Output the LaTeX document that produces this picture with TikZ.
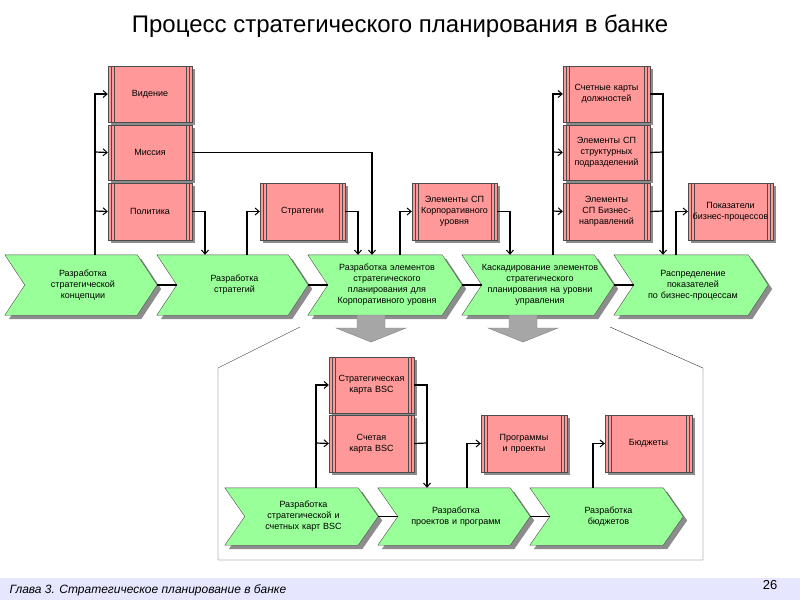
\documentclass[tikz,border=0pt]{standalone}
\usepackage{fontspec}
\setmainfont{Liberation Sans}
\usetikzlibrary{arrows.meta,shadows,calc}
\definecolor{rb}{RGB}{255,153,153}
\definecolor{gc}{RGB}{153,255,153}
\definecolor{foot}{RGB}{230,230,255}
\tikzset{
 arr/.style={draw=black,line width=1.2pt,-{Straight Barb[length=4pt,width=7pt,line width=1pt]}},
 ln/.style={draw=black,line width=1.2pt},
 rbox/.style={draw=black!70,fill=rb,inner sep=1pt,align=center,font=\fontsize{9}{11}\selectfont,
   drop shadow={shadow xshift=3pt,shadow yshift=-3pt,fill=black!45,opacity=1},
   path picture={
    \foreach \d in {3,6}{
     \draw[black!70] ([xshift=\d pt]path picture bounding box.north west) -- ([xshift=\d pt]path picture bounding box.south west);
     \draw[black!70] ([xshift=-\d pt]path picture bounding box.north east) -- ([xshift=-\d pt]path picture bounding box.south east);}}},
 chtext/.style={inner sep=0pt,align=center,font=\fontsize{9}{11}\selectfont,text width=140pt},
}
\newcommand\rbx[6]{\node[rbox,minimum width={(#4-#2)*1pt},minimum height={(#5-#3)*1pt},text width={(#4-#2-4)*1pt}] (#1) at ({(#2+#4)/2},{(#3+#5)/2}) {#6};}
\newcommand\chev[6]{%
 \node[inner sep=0pt,minimum width={(#3-#2)*1pt},minimum height={(#5-#4)*1pt}] (#1) at ({(#2+#3)/2},{(#4+#5)/2}) {};
 \fill[black!45] ($( #1.north west)+(4,4)$) -- ($(#1.north east)+(-16,4)$) -- ($(#1.east)+(4,4)$) -- ($(#1.south east)+(-16,4)$) -- ($(#1.south west)+(4,4)$) -- ($(#1.west)+(24,4)$) -- cycle;
 \filldraw[fill=gc,draw=black!70] (#1.north west) -- ($(#1.north east)+(-20,0)$) -- (#1.east) -- ($(#1.south east)+(-20,0)$) -- (#1.south west) -- ($(#1.west)+(20,0)$) -- cycle;
 \node[chtext] at ($(#1.center)+(2,0)$) {#6};}
\begin{document}
\begin{tikzpicture}[x=1pt,y=-1pt]
\useasboundingbox (0,0) rectangle (800,600);
\fill[foot] (0,578) rectangle (800,600);
\node[font=\itshape\fontsize{12}{13}\selectfont,anchor=west] (ft) at (6,590) {Глава 3. Стратегическое планирование в банке};
\node[font=\fontsize{13}{14}\selectfont] (pg) at (770,585) {26};
\node[font=\fontsize{24}{26}\selectfont] (title) at (400,26) {Процесс стратегического планирования в банке};
% top boxes
\rbx{vid}{108}{66}{192}{122}{Видение}
\rbx{mis}{108}{125}{192}{180}{Миссия}
\rbx{pol}{108}{183}{192}{240}{Политика}
\rbx{str}{260}{183}{345}{240}{Стратегии}
\rbx{ekor}{412}{183}{497}{240}{Элементы СП Корпоративного уровня}
\rbx{sch}{563}{66}{650}{122}{Счетные карты должностей}
\rbx{estr}{563}{125}{650}{180}{Элементы СП структурных подразделений}
\rbx{ebiz}{563}{183}{650}{240}{Элементы СП Бизнес-направлений}
\rbx{pok}{688}{183}{773}{240}{Показатели бизнес-процессов}
% chevrons top
\chev{c1}{5}{157}{255}{315}{Разработка\\стратегической\\концепции}
\chev{c2}{157}{308}{255}{315}{Разработка\\стратегий}
\chev{c3}{308}{462}{255}{315}{Разработка элементов\\стратегического\\планирования для\\Корпоративного уровня}
\chev{c4}{462}{614}{255}{315}{Каскадирование элементов\\стратегического\\планирования на уровни\\управления}
\chev{c5}{614}{768}{255}{315}{Распределение\\показателей\\по бизнес-процессам}
\draw[ln] (c1.east) -- ($(c2.west)+(20,0)$);
\draw[ln] (c2.east) -- ($(c3.west)+(20,0)$);
\draw[ln] (c3.east) -- ($(c4.west)+(20,0)$);
\draw[ln] (c4.east) -- ($(c5.west)+(20,0)$);
% connectors top
\draw[arr] (c1.north -| 95,0) |- (vid.west);
\draw[arr] (95,152) -- (mis.west);
\draw[arr] (95,211) -- (pol.west);
\draw[arr] (mis.east) -| (c3.north -| 372,0);
\draw[arr] (pol.east) -| (c2.north -| 205,0);
\draw[arr] (c2.north -| 247,0) |- (str.west);
\draw[arr] (str.east) -| (c3.north -| 358,0);
\draw[arr] (c3.north -| 400,0) |- (ekor.west);
\draw[arr] (ekor.east) -| (c4.north -| 510,0);
\draw[arr] (c4.north -| 553,0) |- (sch.west);
\draw[arr] (553,152) -- (estr.west);
\draw[arr] (553,211) -- (ebiz.west);
\draw[arr] (sch.east) -| (c5.north -| 663,0);
\draw[ln] (estr.east) -- (663,152);
\draw[ln] (ebiz.east) -- (663,211);
\draw[arr] (c5.north -| 676,0) |- (pok.west);
% gray block arrows
\coordinate (ga1) at (371,342);
\coordinate (ga2) at (523,342);
\foreach \g in {ga1,ga2}{
 \filldraw[fill=black!35,draw=black!50] ($(\g)+(-14,-27)$) -- ($(\g)+(14,-27)$) -- ($(\g)+(14,-14)$) -- ($(\g)+(35,-14)$) -- (\g) -- ($(\g)+(-35,-14)$) -- ($(\g)+(-14,-14)$) -- cycle;}
% outline
\draw[black!80] (300,327) -- (218,368) -- (218,560) -- (703,560) -- (703,368) -- (610,327);
% bottom
\rbx{skb}{329}{357}{414}{413}{Стратегическая карта BSC}
\rbx{sck}{329}{415}{414}{472}{Счетая\\карта BSC}
\rbx{prg}{481}{415}{567}{472}{Программы и проекты}
\rbx{bud}{605}{415}{692}{472}{Бюджеты}
\chev{d1}{225}{378}{488}{545}{Разработка\\стратегической и\\счетных карт BSC}
\chev{d2}{378}{530}{488}{545}{Разработка\\проектов и программ}
\chev{d3}{530}{683}{488}{545}{Разработка\\бюджетов}
\draw[ln] (d1.east) -- ($(d2.west)+(20,0)$);
\draw[ln] (d2.east) -- ($(d3.west)+(20,0)$);
\draw[arr] (d1.north -| 316,0) |- (skb.west);
\draw[arr] (316,443) -- (sck.west);
\draw[arr] (skb.east) -| (d2.north -| 427,0);
\draw[ln] (sck.east) -- (427,443);
\draw[arr] (d2.north -| 467,0) |- (prg.west);
\draw[arr] (d3.north -| 593,0) |- (bud.west);
\end{tikzpicture}
\end{document}
